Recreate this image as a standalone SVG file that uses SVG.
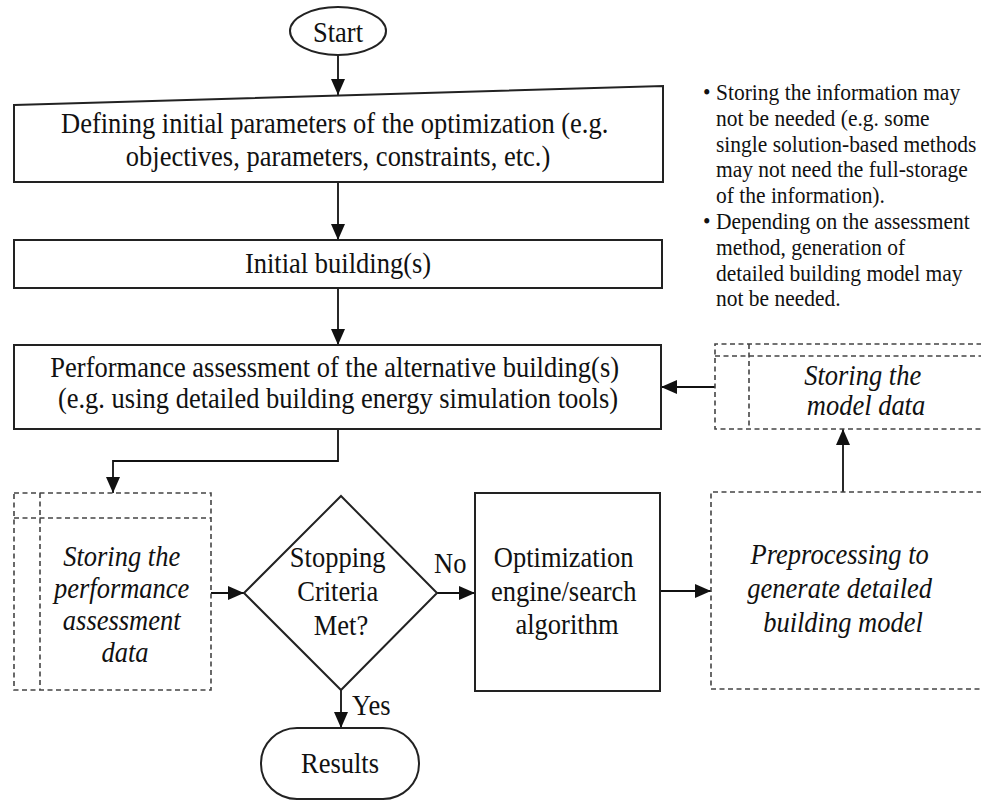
<svg xmlns="http://www.w3.org/2000/svg" width="981" height="801" viewBox="0 0 981 801">
  <style>
    .solid { fill: #fff; stroke: #222; stroke-width: 2; }
    .dash { fill: none; stroke: #444; stroke-width: 1.6; stroke-dasharray: 5 3.5; }
    .conn { fill: none; stroke: #111; stroke-width: 1.8; }
    text { font-family: "Liberation Serif", "Times New Roman", serif; fill: #111; }
    .t { font-size: 26.5px; text-anchor: middle; }
    .i { font-size: 26.5px; text-anchor: middle; font-style: italic; }
    .n { font-size: 21.5px; }
    .lbl { font-size: 26.5px; }
  </style>
  <defs>
    <marker id="arrow" markerUnits="userSpaceOnUse" markerWidth="17" markerHeight="14" refX="16" refY="7" orient="auto">
      <path d="M0,0 L16,7 L0,14 z" fill="#111"/>
    </marker>
  </defs>
  <rect width="981" height="801" fill="#fff"/>

  <!-- connectors -->
  <g id="connectors">
    <line class="conn" x1="338" y1="55" x2="338" y2="95" marker-end="url(#arrow)"/>
    <line class="conn" x1="338" y1="182" x2="338" y2="240" marker-end="url(#arrow)"/>
    <line class="conn" x1="338" y1="288" x2="338" y2="345" marker-end="url(#arrow)"/>
    <polyline class="conn" points="338,429 338,461 113,461 113,493" marker-end="url(#arrow)"/>
    <line class="conn" x1="211" y1="593" x2="244" y2="593" marker-end="url(#arrow)"/>
    <line class="conn" x1="437" y1="593" x2="475" y2="593" marker-end="url(#arrow)"/>
    <line class="conn" x1="660" y1="591" x2="711" y2="591" marker-end="url(#arrow)"/>
    <line class="conn" x1="843" y1="492" x2="843" y2="429" marker-end="url(#arrow)"/>
    <line class="conn" x1="715" y1="387" x2="661" y2="387" marker-end="url(#arrow)"/>
    <line class="conn" x1="341" y1="690" x2="341" y2="728" marker-end="url(#arrow)"/>
    <text class="lbl" transform="matrix(1 0 0 1.14 434 573)">No</text>
    <text class="lbl" transform="matrix(1 0 0 1.14 352 715)">Yes</text>
  </g>

  <!-- start terminal -->
  <g id="start">
    <ellipse class="solid" cx="338" cy="31" rx="48" ry="24"/>
    <text class="t" transform="matrix(1 0 0 1.14 338 42)">Start</text>
  </g>

  <!-- manual input: optimization setup -->
  <g id="define">
    <polygon class="solid" points="14,105 663,86 663,182 14,182"/>
    <text class="t" transform="matrix(1 0 0 1.14 338 132.5)">
      <tspan x="0" y="0">Defining initial parameters of the optimization (e.g.</tspan>
      <tspan x="0" y="29.8">objectives, parameters, constraints, etc.)</tspan>
    </text>
  </g>

  <g id="initial">
    <rect class="solid" x="14" y="240" width="648" height="48"/>
    <text class="t" transform="matrix(1 0 0 1.14 338 273)">Initial building(s)</text>
  </g>

  <g id="assessment">
    <rect class="solid" x="14" y="345" width="647" height="84"/>
    <text class="t" transform="matrix(1 0 0 1.14 338 377)">
      <tspan x="0" y="0">Performance assessment of the alternative building(s)</tspan>
      <tspan x="0" y="27.2">(e.g. using detailed building energy simulation tools)</tspan>
    </text>
  </g>

  <!-- internal storage: model data -->
  <g id="store-model">
    <path class="dash" d="M990,344 H715 V429 H990 M749,344 V429 M715,356 H990"/>
    <text class="i" transform="matrix(1 0 0 1.14 866 385)">
      <tspan x="0" y="0">Storing the</tspan>
      <tspan x="0" y="26.3">model data</tspan>
    </text>
  </g>

  <!-- internal storage: performance data -->
  <g id="store-perf">
    <path class="dash" d="M14,493 H211 V690 H14 Z M40,493 V690 M14,518 H211"/>
    <text class="i" transform="matrix(1 0 0 1.14 125 566)">
      <tspan x="0" y="0">Storing the</tspan>
      <tspan x="0" y="28.1">performance</tspan>
      <tspan x="0" y="56.1">assessment</tspan>
      <tspan x="0" y="84.2">data</tspan>
    </text>
  </g>

  <g id="decision">
    <polygon class="solid" points="341,496 437,593 341,690 244,593"/>
    <text class="t" transform="matrix(1 0 0 1.14 341 567)">
      <tspan x="0" y="0">Stopping</tspan>
      <tspan x="0" y="29.8">Criteria</tspan>
      <tspan x="0" y="59.6">Met?</tspan>
    </text>
  </g>

  <g id="optimizer">
    <rect class="solid" x="475" y="493" width="185" height="198"/>
    <text class="t" transform="matrix(1 0 0 1.14 567 567)">
      <tspan x="0" y="0">Optimization</tspan>
      <tspan x="0" y="29.4">engine/search</tspan>
      <tspan x="0" y="58.8">algorithm</tspan>
    </text>
  </g>

  <g id="preprocess">
    <path class="dash" d="M990,492 H711 V689 H990"/>
    <text class="i" transform="matrix(1 0 0 1.14 843 564)">
      <tspan x="0" y="0">Preprocessing to</tspan>
      <tspan x="0" y="29.8">generate detailed</tspan>
      <tspan x="0" y="59.6">building model</tspan>
    </text>
  </g>

  <g id="results">
    <rect class="solid" x="261" y="728" width="158" height="71" rx="36" ry="35"/>
    <text class="t" transform="matrix(1 0 0 1.14 340 773)">Results</text>
  </g>

  <!-- side notes -->
  <g id="notes">
    <text class="n" transform="matrix(1 0 0 1.1 0 0)">
      <tspan x="703" y="90.9">•</tspan><tspan x="716" y="90.9">Storing the information may</tspan>
      <tspan x="716" y="114.4">not be needed (e.g. some</tspan>
      <tspan x="716" y="137.8">single solution-based methods</tspan>
      <tspan x="716" y="161.3">may not need the full-storage</tspan>
      <tspan x="716" y="184.5">of the information).</tspan>
      <tspan x="703" y="208.2">•</tspan><tspan x="716" y="208.2">Depending on the assessment</tspan>
      <tspan x="716" y="231.8">method, generation of</tspan>
      <tspan x="716" y="255.5">detailed building model may</tspan>
      <tspan x="716" y="278.2">not be needed.</tspan>
    </text>
  </g>
</svg>
